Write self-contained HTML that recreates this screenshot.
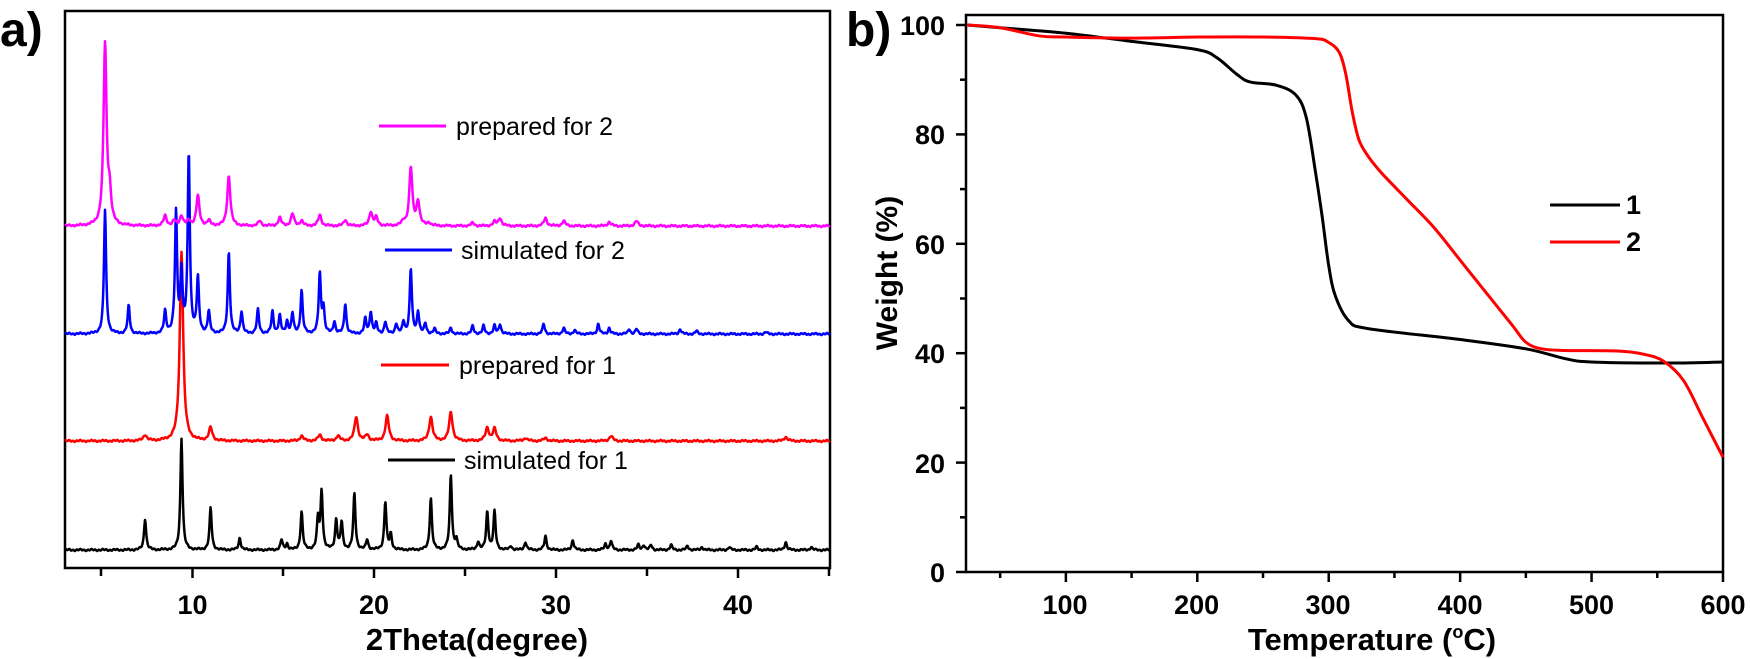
<!DOCTYPE html>
<html><head><meta charset="utf-8"><style>
html,body{margin:0;padding:0;background:#fff;}
svg{display:block;font-family:"Liberation Sans",Arial,sans-serif;}
</style></head><body>
<svg id="s" width="1750" height="659" viewBox="0 0 1750 659" xmlns="http://www.w3.org/2000/svg">
<rect width="1750" height="659" fill="#fff"/>
<!-- Panel a -->
<text x="0" y="46" font-size="48" font-weight="bold">a)</text>
<rect x="65" y="11" width="765" height="557" fill="none" stroke="#000" stroke-width="2.5"/>
<g stroke="#000" stroke-width="2.5">
<line x1="101" y1="568" x2="101" y2="576"/><line x1="192.5" y1="568" x2="192.5" y2="578"/>
<line x1="283" y1="568" x2="283" y2="576"/><line x1="374" y1="568" x2="374" y2="578"/>
<line x1="465" y1="568" x2="465" y2="576"/><line x1="556" y1="568" x2="556" y2="578"/>
<line x1="647" y1="568" x2="647" y2="576"/><line x1="738" y1="568" x2="738" y2="578"/>
<line x1="829" y1="568" x2="829" y2="576"/>
</g>
<g font-size="27" font-weight="bold" text-anchor="middle">
<text x="192.5" y="614">10</text><text x="374" y="614">20</text><text x="556" y="614">30</text><text x="738" y="614">40</text>
</g>
<text x="477" y="650" font-size="31" font-weight="bold" text-anchor="middle">2Theta(degree)</text>
<g id="xrd" fill="none" stroke-width="2.5" stroke-linejoin="round"></g>
<g font-size="25">
<line x1="379" y1="126" x2="446" y2="126" stroke="#ff00ff" stroke-width="3"/><text x="456" y="135">prepared for 2</text>
<line x1="385" y1="250" x2="452" y2="250" stroke="#0000ff" stroke-width="3"/><text x="461" y="259">simulated for 2</text>
<line x1="381" y1="365" x2="449" y2="365" stroke="#ff0000" stroke-width="3"/><text x="459" y="374">prepared for 1</text>
<line x1="388" y1="460" x2="455" y2="460" stroke="#000" stroke-width="3"/><text x="464" y="469">simulated for 1</text>
</g>
<!-- Panel b -->
<text x="846" y="46" font-size="48" font-weight="bold">b)</text>
<rect x="966" y="15" width="757" height="557" fill="none" stroke="#000" stroke-width="2.5"/>
<g id="bt" stroke="#000" stroke-width="2.5"></g>
<g font-size="27" font-weight="bold" text-anchor="end">
<text x="945" y="35">100</text><text x="945" y="144">80</text><text x="945" y="254">60</text><text x="945" y="363">40</text><text x="945" y="473">20</text><text x="945" y="582">0</text>
</g>
<g font-size="27" font-weight="bold" text-anchor="middle">
<text x="1065" y="614">100</text><text x="1196.6" y="614">200</text><text x="1328" y="614">300</text><text x="1460" y="614">400</text><text x="1591.5" y="614">500</text><text x="1723" y="614">600</text>
</g>
<text x="1372" y="650" font-size="31" font-weight="bold" text-anchor="middle">Temperature (<tspan font-size="18" dy="-12">o</tspan><tspan dy="12">C)</tspan></text>
<text transform="translate(897,273) rotate(-90)" font-size="30" font-weight="bold" text-anchor="middle">Weight (%)</text>
<g id="tga" fill="none" stroke-width="3" stroke-linejoin="round"></g>
<g font-size="27" font-weight="bold">
<line x1="1550" y1="205" x2="1620" y2="205" stroke="#000" stroke-width="3"/><text x="1626" y="214">1</text>
<line x1="1550" y1="242" x2="1620" y2="242" stroke="#ff0000" stroke-width="3"/><text x="1626" y="251">2</text>
</g>
</svg>
<script>
var NS="http://www.w3.org/2000/svg";
function mk(peaks,base,col,w){
 var d="";
 for(var px=65;px<=830;px+=0.5){
  var t=3+(px-65)/18.2,y=0;
  for(var i=0;i<peaks.length;i+=2){var dx=(t-peaks[i])/w;y+=peaks[i+1]/(1+dx*dx);}
  var n=Math.sin(px*1.7)*0.6+Math.sin(px*0.53)*0.5;
  d+=(d?"L":"M")+px.toFixed(1)+","+(base-y+n).toFixed(1);
 }
 var p=document.createElementNS(NS,"path");p.setAttribute("d",d);p.setAttribute("stroke",col);
 document.getElementById("xrd").appendChild(p);
}
mk([7.4,31,9.4,112,11,42,12.6,12,14.9,10,15.2,6,16,38,16.9,30,17.1,58,17.9,30,18.2,27,18.9,56,19.6,10,20.6,48,20.9,15,23.1,52,24.2,75,24.5,10,25.7,8,26.2,38,26.6,38,27.5,4,28.3,8,29.4,14,30.9,10,32.7,6,33,9,34.5,5,34.8,5,35.2,5,36.3,5,37.2,4,38,3,39.5,3,41,3,42.6,8,44,3],550,"#000",0.07);
mk([7.4,6,9.4,190,11,13,16,5,17,6,18,5,19,24,19.6,6,20.7,25,23.1,24,24.2,29,26.2,13,26.6,12,28.3,3,29.4,3,33,5,42.6,4],441,"#ff0000",0.11);
mk([5.2,124,6.5,28,8.5,22,9.1,120,9.4,60,9.8,180,10.3,55,10.9,22,12,82,12.7,22,13.6,24,14.4,22,14.8,18,15.2,12,15.5,20,16,43,17,60,17.2,25,17.8,12,18.4,30,19.5,15,19.8,22,20.1,10,20.6,12,21.2,10,21.6,12,22,65,22.4,22,22.8,10,23.3,5,24.2,6,25.4,8,26,8,26.6,8,26.9,10,29.3,10,30.4,6,31,4,32.3,10,32.9,6,34,5,34.4,5,36.8,5,37.7,3,41.5,2],334,"#0000ff",0.07);
mk([5.2,181,5.45,28,8.5,10,9,5,9.4,10,9.8,5,10.3,30,10.9,5,12,50,13.7,5,14.8,8,15.5,12,16,5,17,11,18.4,6,19.8,14,20.1,8,21.6,4,22,58,22.4,24,23,3,25.4,3,26.6,4,26.9,8,29.4,8,30.4,5,32.9,4,34.4,5],226,"#ff00ff",0.1);
function TX(t){return 966+(t-24)*1.3142;} function TY(w){return 572-w*5.47;}
var bt=document.getElementById("bt"),h="";
for(var v=0;v<=100;v+=10){var L=(v%20==0)?10:6;h+='<line x1="'+(966-L)+'" y1="'+TY(v)+'" x2="966" y2="'+TY(v)+'"/>';}
for(var t=50;t<=600;t+=50){var L=(t%100==0)?10:6;h+='<line x1="'+TX(t)+'" y1="572" x2="'+TX(t)+'" y2="'+(572+L)+'"/>';}
bt.innerHTML=h;
function curve(pts,col){
 var d="M"+TX(pts[0][0])+","+TY(pts[0][1]);
 for(var i=1;i<pts.length;i++){
  var p0=pts[Math.max(0,i-2)],p1=pts[i-1],p2=pts[i],p3=pts[Math.min(pts.length-1,i+1)];
  var c1=[p1[0]+(p2[0]-p0[0])/6,p1[1]+(p2[1]-p0[1])/6],c2=[p2[0]-(p3[0]-p1[0])/6,p2[1]-(p3[1]-p1[1])/6];
  d+="C"+TX(c1[0])+","+TY(c1[1])+" "+TX(c2[0])+","+TY(c2[1])+" "+TX(p2[0])+","+TY(p2[1]);
 }
 var p=document.createElementNS(NS,"path");p.setAttribute("d",d);p.setAttribute("stroke",col);
 document.getElementById("tga").appendChild(p);
}
curve([[25,100],[50,99.5],[100,98.5],[150,97],[200,95.5],[215,94],[230,91],[240,89.6],[260,89],[275,87.2],[283,83],[290,73],[295,65],[300,56],[305,50.5],[315,46],[330,44.5],[400,42.5],[450,40.8],[480,39],[500,38.4],[560,38.2],[600,38.4]],"#000");
curve([[25,100],[50,99.5],[80,98],[100,97.8],[150,97.6],[200,97.8],[250,97.8],[290,97.5],[300,96.8],[308,95],[313,91],[318,84],[323,79],[330,76],[340,73],[360,68],[380,63],[400,57],[420,51],[440,45],[450,42],[462,40.8],[480,40.5],[520,40.4],[540,39.8],[555,38.5],[570,35],[585,28],[600,21]],"#ff0000");
</script>
</body></html>
